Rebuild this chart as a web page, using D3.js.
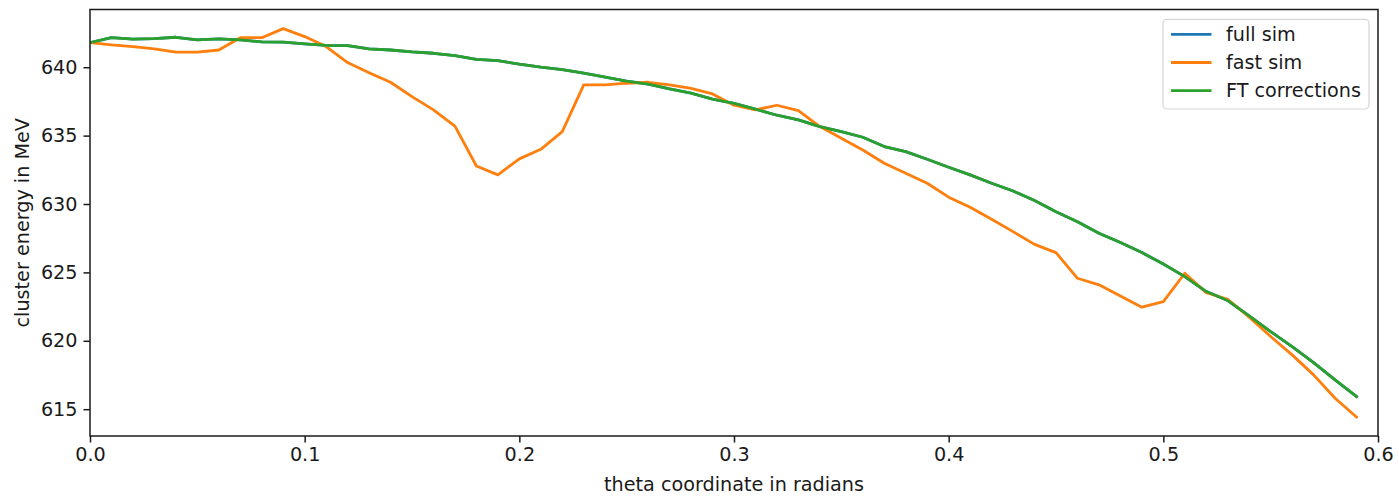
<!DOCTYPE html>
<html>
<head>
<meta charset="utf-8">
<script src="https://cdn.jsdelivr.net/npm/d3@7"></script>
<style>
  html, body { margin: 0; padding: 0; background: #fff; }
  svg { display: block; font-family: "DejaVu Sans", sans-serif; }
</style>
</head>
<body>
<svg id="chart" width="1399" height="496"></svg>
<script>
// theta values 0.00 .. 0.59 step 0.01
const theta = [0.00,0.01,0.02,0.03,0.04,0.05,0.06,0.07,0.08,0.09,
               0.10,0.11,0.12,0.13,0.14,0.15,0.16,0.17,0.18,0.19,
               0.20,0.21,0.22,0.23,0.24,0.25,0.26,0.27,0.28,0.29,
               0.30,0.31,0.32,0.33,0.34,0.35,0.36,0.37,0.38,0.39,
               0.40,0.41,0.42,0.43,0.44,0.45,0.46,0.47,0.48,0.49,
               0.50,0.51,0.52,0.53,0.54,0.55,0.56,0.57,0.58,0.59];

const ftCorrections = [641.80,642.16,642.05,642.09,642.19,642.00,642.07,642.00,641.85,641.83,
                       641.70,641.60,641.58,641.34,641.26,641.12,641.02,640.85,640.58,640.48,
                       640.22,640.00,639.82,639.56,639.27,638.98,638.76,638.41,638.10,637.67,
                       637.35,636.93,636.49,636.15,635.66,635.29,634.88,634.20,633.83,633.27,
                       632.69,632.13,631.52,630.95,630.25,629.44,628.71,627.86,627.18,626.45,
                       625.62,624.69,623.60,622.94,621.82,620.67,619.58,618.41,617.14,615.92];

const fullSim = ftCorrections.slice();

const fastSim = [641.80,641.63,641.51,641.34,641.10,641.10,641.26,642.16,642.16,642.82,
                 642.24,641.51,640.34,639.60,638.90,637.85,636.88,635.70,632.78,632.13,
                 633.30,634.00,635.29,638.71,638.71,638.83,638.90,638.71,638.46,638.05,
                 637.22,636.88,637.22,636.83,635.66,634.81,633.95,632.98,632.25,631.52,
                 630.50,629.77,628.89,627.98,627.05,626.45,624.57,624.09,623.28,622.46,
                 622.87,624.94,623.52,623.04,621.73,620.31,618.97,617.51,615.80,614.42];

const xTicks = [0.0,0.1,0.2,0.3,0.4,0.5,0.6];
const yTicks = [615,620,625,630,635,640];
const seriesNames = ["full sim","fast sim","FT corrections"];
const seriesColors = ["#1f77b4","#ff7f0e","#2ca02c"];

const svg = d3.select("#chart");
const L = 90, R = 1378, T = 9.5, B = 436;
const fs = 19.2;

const x = d3.scaleLinear().domain([0, 0.6]).range([L, R]);
const y = d3.scaleLinear().domain([613.04, 644.22]).range([B, T]);

const series = [fullSim, fastSim, ftCorrections];
const line = d3.line().x((d, i) => x(theta[i])).y(d => y(d));

svg.append("defs").append("clipPath").attr("id", "clip")
  .append("rect").attr("x", L).attr("y", T).attr("width", R - L).attr("height", B - T);

const g = svg.append("g").attr("clip-path", "url(#clip)");
series.forEach((s, k) => {
  g.append("path").datum(s)
    .attr("d", line)
    .attr("fill", "none")
    .attr("stroke", seriesColors[k])
    .attr("stroke-width", 2.8)
    .attr("stroke-linejoin", "round")
    .attr("stroke-linecap", "square");
});

// axes
const xAxis = d3.axisBottom(x).tickValues(xTicks).tickFormat(d3.format(".1f")).tickSizeOuter(0).tickSize(6.5).tickPadding(5);
const yAxis = d3.axisLeft(y).tickValues(yTicks).tickFormat(d3.format("d")).tickSizeOuter(0).tickSize(6.5).tickPadding(6);

const gx = svg.append("g").attr("transform", `translate(0,${B})`).call(xAxis);
const gy = svg.append("g").attr("transform", `translate(${L},0)`).call(yAxis);
[gx, gy].forEach(a => {
  a.select(".domain").remove();
  a.selectAll(".tick line").attr("stroke", "#1a1a1a").attr("stroke-width", 1.5);
  a.selectAll(".tick text").attr("fill", "#1a1a1a").style("font-size", fs + "px")
    .style("font-family", "DejaVu Sans, sans-serif");
});

// frame
svg.append("rect").attr("x", L).attr("y", T).attr("width", R - L).attr("height", B - T)
  .attr("fill", "none").attr("stroke", "#1a1a1a").attr("stroke-width", 1.5);

// axis labels
svg.append("text").attr("x", (L + R) / 2).attr("y", 491)
  .attr("text-anchor", "middle").attr("fill", "#1a1a1a").style("font-size", fs + "px")
  .text("theta coordinate in radians");
svg.append("text").attr("transform", `translate(28.5,${(T + B) / 2}) rotate(-90)`)
  .attr("text-anchor", "middle").attr("fill", "#1a1a1a").style("font-size", fs + "px")
  .text("cluster energy in MeV");

// legend
const lg = svg.append("g");
lg.append("rect").attr("x", 1163).attr("y", 19.3).attr("width", 206).attr("height", 89.7)
  .attr("rx", 4).attr("fill", "#fff").attr("fill-opacity", 0.8)
  .attr("stroke", "#d5d5d5").attr("stroke-width", 1.2);
seriesNames.forEach((n, k) => {
  const yy = 34.3 + k * 28.2;
  lg.append("line").attr("x1", 1171).attr("x2", 1211.5).attr("y1", yy).attr("y2", yy)
    .attr("stroke", seriesColors[k]).attr("stroke-width", 2.8);
  lg.append("text").attr("x", 1226).attr("y", yy).attr("dy", "0.35em")
    .attr("fill", "#1a1a1a").style("font-size", fs + "px").text(n);
});
</script>
</body>
</html>
